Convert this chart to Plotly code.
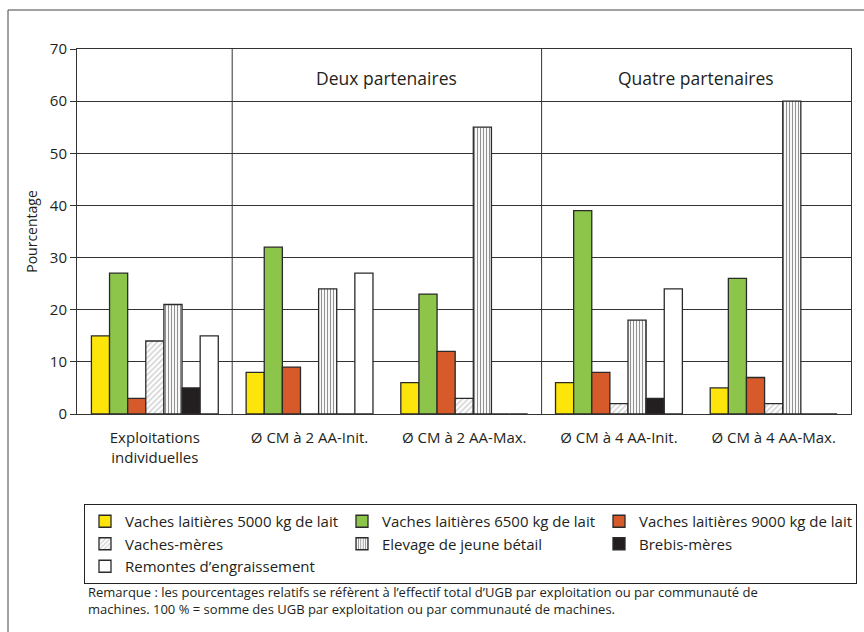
import plotly.graph_objects as go

# Categories (x axis)
categories = [
    "Exploitations<br>individuelles",
    "Ø CM à 2 AA-Init.",
    "Ø CM à 2 AA-Max.",
    "Ø CM à 4 AA-Init.",
    "Ø CM à 4 AA-Max.",
]

# Share of livestock units (%) per category
vl_5000 = [15, 8, 6, 6, 5]
vl_6500 = [27, 32, 23, 39, 26]
vl_9000 = [3, 9, 12, 8, 7]
vaches_meres = [14, 0, 3, 2, 2]
jeune_betail = [21, 24, 55, 18, 60]
brebis_meres = [5, 0, 0, 3, 0]
remontes = [15, 27, 0, 24, 0]

series_names = [
    "Vaches laitières 5000 kg de lait",
    "Vaches laitières 6500 kg de lait",
    "Vaches laitières 9000 kg de lait",
    "Vaches-mères",
    "Elevage de jeune bétail",
    "Brebis-mères",
    "Remontes d’engraissement",
]
series_values = [vl_5000, vl_6500, vl_9000, vaches_meres, jeune_betail, brebis_meres, remontes]

group_labels = ["Deux partenaires", "Quatre partenaires"]
y_ticks = [0, 10, 20, 30, 40, 50, 60, 70]

note_text = (
    "Remarque : les pourcentages relatifs se réfèrent à l’effectif total d’UGB par exploitation "
    "ou par communauté de<br>machines. 100 % = somme des UGB par exploitation ou par communauté de machines."
)

FONT = "Open Sans, Noto Sans, sans-serif"
INK = "#231f20"
OUTLINE = "#2a2a2a"

styles = [
    dict(color="#fde40a"),
    dict(color="#8cc54a"),
    dict(color="#d65a2a"),
    dict(color="white", pattern=dict(shape="/", fgcolor="#a8a8a8", bgcolor="white", size=4, solidity=0.4)),
    dict(color="white", pattern=dict(shape="|", fgcolor="#222222", bgcolor="white", size=3, solidity=0.38)),
    dict(color="#231f20"),
    dict(color="white"),
]

fig = go.Figure()
for name, vals, st in zip(series_names, series_values, styles):
    marker = dict(color=st["color"], line=dict(color=OUTLINE, width=1.3))
    if "pattern" in st:
        marker["pattern"] = st["pattern"]
    fig.add_trace(go.Bar(name=name, x=categories, y=vals, marker=marker))

# Plot area geometry (pixels)
L, R, T, B = 77, 13, 49, 218
W_PLOT = 864 - L - R
H_PLOT = 632 - T - B


def px_x(px):
    return (px - L) / W_PLOT


def px_y(py):
    return (632 - B - py) / H_PLOT


shapes = []
# group separators spanning the full height
for xb in (0.5, 2.5):
    shapes.append(dict(type="line", xref="x", yref="y", x0=xb, x1=xb, y0=-3.8, y1=70,
                       line=dict(color="#333333", width=1)))
# small boundary ticks below the axis
for xb in (-0.5, 1.5, 3.5):
    shapes.append(dict(type="line", xref="x", yref="y", x0=xb, x1=xb, y0=-3.8, y1=0,
                       line=dict(color="#333333", width=1)))
# frame around the figure (top and left edges)
shapes.append(dict(type="line", xref="paper", yref="paper", x0=px_x(8), x1=px_x(870),
                   y0=px_y(10), y1=px_y(10), line=dict(color="#444444", width=1)))
shapes.append(dict(type="line", xref="paper", yref="paper", x0=px_x(8), x1=px_x(8),
                   y0=px_y(10), y1=px_y(640), line=dict(color="#444444", width=1)))

annotations = [
    dict(text=group_labels[0], x=1.5, y=64.4, xref="x", yref="y", showarrow=False,
         font=dict(size=17.5, color=INK, family=FONT)),
    dict(text=group_labels[1], x=3.5, y=64.4, xref="x", yref="y", showarrow=False,
         font=dict(size=17.5, color=INK, family=FONT)),
    dict(text=note_text, x=px_x(86), y=px_y(581), xref="paper", yref="paper",
         xanchor="left", yanchor="top", align="left", showarrow=False,
         font=dict(size=13, color=INK, family=FONT)),
]

fig.update_layout(
    width=864, height=632,
    margin=dict(l=L, r=R, t=T, b=B, pad=0, autoexpand=False),
    paper_bgcolor="white", plot_bgcolor="white",
    barmode="group", bargap=0.18, bargroupgap=0,
    font=dict(family=FONT, color=INK, size=15),
    shapes=shapes, annotations=annotations,
    showlegend=True,
    legend=dict(
        # anchored on its right edge, just past the plot, so three columns fit in one row
        orientation="h", x=px_x(857), y=px_y(504), xanchor="right", yanchor="top",
        bordercolor="#222222", borderwidth=1, bgcolor="white",
        font=dict(size=15, color=INK, family=FONT),
        entrywidth=212, entrywidthmode="pixels", traceorder="normal",
        itemwidth=30,
    ),
    xaxis=dict(
        type="category", showline=True, linecolor="#333333", linewidth=1, mirror=True,
        ticks="", showgrid=False, tickfont=dict(size=15, color=INK),
        ticklabelstandoff=10, fixedrange=True,
    ),
    yaxis=dict(
        range=[0, 70], tickvals=y_ticks, showline=True, linecolor="#333333", linewidth=1,
        mirror=True, ticks="outside", ticklen=6, tickcolor="#333333",
        showgrid=True, gridcolor="#333333", gridwidth=1,
        tickfont=dict(size=15, color=INK), zeroline=False,
        title=dict(text="Pourcentage", font=dict(size=14, color=INK), standoff=8),
        fixedrange=True,
    ),
)

fig.write_html("out.html")
